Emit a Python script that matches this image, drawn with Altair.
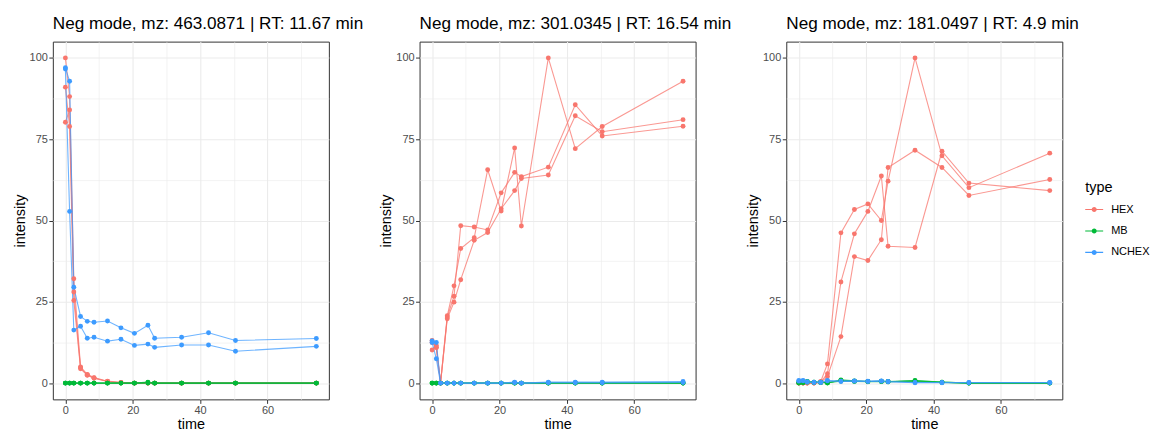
import altair as alt
import pandas as pd

# ---------------- data ----------------
TIMES = [0, 1.25, 2.5, 4.5, 6.5, 8.5, 12.5, 16.5, 20.5, 24.5, 26.5, 34.5, 42.5, 50.5, 74.5]
TYPES = ["HEX", "MB", "NCHEX"]
COLORS = ["#F8766D", "#00BA38", "#3D9BFF"]
TITLES = [
    "Neg mode, mz: 463.0871 | RT: 11.67 min",
    "Neg mode, mz: 301.0345 | RT: 16.54 min",
    "Neg mode, mz: 181.0497 | RT: 4.9 min",
]

# panel 1
P1_HEX = [
    [100.0, 88.1, 32.1, 5.0, 2.7, 1.7, 0.6, 0.2, 0, 0, 0, 0, 0, 0, 0],
    [91.0, 78.9, 25.4, 4.4, 2.4, 1.5, 0.5, 0.1, 0, 0, 0, 0, 0, 0, 0],
    [80.2, 84.0, 28.0, 4.7, 2.5, 1.6, 0.5, 0.2, 0, 0, 0, 0, 0, 0, 0],
]
P1_MB = [
    [0, 0, 0, 0, 0, 0, 0, 0, 0, 0.3, 0, 0, 0, 0, 0],
    [0, 0, 0, 0, 0, 0, 0, 0, 0, 0.1, 0, 0, 0, 0, 0],
    [0, 0, 0, 0, 0, 0, 0, 0, 0, 0, 0, 0, 0, 0, 0],
]
P1_NCHEX = [
    [97.0, 92.8, 29.5, 20.5, 19.0, 18.7, 19.1, 17.0, 15.3, 17.8, 13.8, 14.1, 15.5, 13.1, 13.7],
    [96.6, 52.8, 16.3, 17.5, 13.8, 14.1, 12.9, 13.5, 11.6, 12.0, 11.0, 11.7, 11.7, 9.8, 11.3],
]

# panel 2
P2_HEX = [
    [12.5, 11.0, 0, 20.7, 29.9, 41.4, 44.7, 65.6, 52.9, 72.3, 48.3, 100.0, 72.1, 78.9, 92.8],
    [13.1, 10.9, 0, 20.3, 26.7, 48.4, 48.0, 47.1, 58.5, 64.8, 63.5, 66.4, 85.6, 76.0, 79.0],
    [10.2, 11.6, 0, 19.8, 24.9, 31.8, 43.9, 46.3, 53.6, 59.2, 62.9, 64.0, 82.2, 77.3, 81.0],
]
P2_MB = [
    [0, 0, 0, 0, 0, 0, 0, 0, 0, 0, 0, 0, 0, 0, 0],
    [0, 0, 0, 0, 0, 0, 0, 0, 0, 0, 0, 0, 0, 0, 0],
    [0, 0, 0, 0, 0, 0, 0, 0, 0, 0, 0, 0, 0, 0, 0],
]
P2_NCHEX = [
    [13.0, 12.5, 0, 0, 0, 0, 0, 0, 0, 0.3, 0, 0.3, 0.3, 0.3, 0.5],
    [12.5, 7.5, 0, 0, 0, 0, 0, 0, 0, 0.1, 0, 0.1, 0.1, 0.1, 0.2],
]

# panel 3
P3_HEX = [
    [0, 0, 0, 0, 0.5, 5.9, 46.2, 53.4, 55.1, 50.0, 62.1, 100.0, 69.9, 60.1, 70.7],
    [0, 0, 0, 0, 0.3, 2.9, 31.1, 45.9, 52.8, 63.7, 42.1, 41.7, 71.3, 61.5, 59.2],
    [0, 0, 0, 0, 0.2, 2.0, 14.3, 38.9, 37.7, 44.1, 66.3, 71.6, 66.3, 57.7, 62.6],
]
P3_MB = [
    [0.1, 0.2, 0.5, 0.3, 0.3, 0.0, 1.0, 0.7, 0.5, 0.6, 0.5, 0.8, 0.3, 0, 0],
    [0.0, 0.1, 0.3, 0.2, 0.2, 0.1, 0.6, 0.5, 0.4, 0.5, 0.4, 0.6, 0.2, 0, 0],
    [0.2, 0.3, 0.4, 0.3, 0.2, 0.2, 0.8, 0.6, 0.5, 0.5, 0.4, 0.7, 0.3, 0, 0],
]
P3_NCHEX = [
    [0.8, 0.8, 0.4, 0.3, 0.3, 0.8, 0.6, 0.7, 0.6, 0.7, 0.5, 0.2, 0.2, 0.2, 0.2],
    [0.6, 0.7, 0.3, 0.2, 0.2, 0.7, 0.5, 0.6, 0.5, 0.6, 0.4, 0.1, 0.1, 0.1, 0.1],
]

PANELS = [
    (P1_HEX, P1_MB, P1_NCHEX),
    (P2_HEX, P2_MB, P2_NCHEX),
    (P3_HEX, P3_MB, P3_NCHEX),
]

X_VALUES = [0, 10, 20, 30, 40, 50, 60, 70]
Y_VALUES = [0, 12.5, 25, 37.5, 50, 62.5, 75, 87.5, 100]

FONT = "Liberation Sans"
# legend key: thin horizontal line with a dot (ggplot line+point key)
LEGEND_SYMBOL = ("M-1,-0.06H1V0.06H-1Z "
                 "M0,-0.28A0.28,0.28 0 1,1 0,0.28A0.28,0.28 0 1,1 0,-0.28Z")


def panel_df(series):
    rows = []
    for type_name, reps in zip(TYPES, series):
        for i, rep in enumerate(reps):
            for t, v in zip(TIMES, rep):
                rows.append({"type": type_name, "rep": f"{type_name}_{i}",
                             "time": t, "intensity": v})
    return pd.DataFrame(rows)


color_scale = alt.Scale(domain=TYPES, range=COLORS)

x_axis = alt.Axis(
    values=X_VALUES,
    labelExpr="datum.value % 20 === 0 ? datum.label : ''",
    tickOpacity={"condition": {"test": "datum.value % 20 === 0", "value": 1}, "value": 0},
    gridWidth={"condition": {"test": "datum.value % 20 === 0", "value": 1.1}, "value": 0.6},
    title="time",
)
y_axis = alt.Axis(
    values=Y_VALUES,
    labelExpr="datum.value % 25 === 0 ? datum.label : ''",
    tickOpacity={"condition": {"test": "datum.value % 25 === 0", "value": 1}, "value": 0},
    gridWidth={"condition": {"test": "datum.value % 25 === 0", "value": 1.1}, "value": 0.6},
    title="intensity",
)

legend = alt.Legend(
    title="type",
    orient="none",
    legendX=1036,
    legendY=140,
    symbolType=LEGEND_SYMBOL,
    symbolSize=324,
    symbolStrokeWidth=0,
    symbolOpacity=1,
    labelFontSize=11,
    labelFont=FONT,
    labelColor="black",
    labelOffset=8,
    titleFontSize=14.5,
    titleFont=FONT,
    titleFontWeight="normal",
    titleColor="black",
    titlePadding=5,
    rowPadding=7.5,
)

charts = []
for title, series in zip(TITLES, PANELS):
    df = panel_df(series)
    base = alt.Chart(df).encode(
        x=alt.X("time:Q", axis=x_axis,
                scale=alt.Scale(domain=[-3.725, 78.225], nice=False, zero=False)),
        y=alt.Y("intensity:Q", axis=y_axis,
                scale=alt.Scale(domain=[-5, 105], nice=False, zero=False)),
    )
    # invisible first layer carries the legend
    layers = [
        base.mark_point(filled=True, size=24, opacity=0).encode(
            color=alt.Color("type:N", scale=color_scale, legend=legend),
        )
    ]
    # one line layer per type so the drawing order is HEX, MB, NCHEX
    for type_name in TYPES:
        layers.append(
            base.transform_filter(alt.datum.type == type_name)
            .mark_line(strokeWidth=1.1, opacity=0.75)
            .encode(
                color=alt.Color("type:N", scale=color_scale, legend=None),
                detail="rep:N",
            )
        )
    layers.append(
        base.mark_point(filled=True, size=24, opacity=1).encode(
            color=alt.Color("type:N", scale=color_scale, legend=None),
        )
    )
    ch = alt.layer(*layers).properties(
        width=277,
        height=359,
        title=alt.TitleParams(
            text=title, anchor="start", frame="group", fontSize=17.2, font=FONT,
            fontWeight="normal", color="black", offset=9,
        ),
    )
    charts.append(ch)

chart = alt.hconcat(*charts, spacing=91, bounds="flush").properties(
    padding={"left": 3, "top": 6, "right": 0, "bottom": 0}
).configure_view(
    stroke="#333333", strokeWidth=1
).configure_axis(
    domain=False,
    grid=True,
    gridColor="#EBEBEB",
    tickColor="#333333",
    tickSize=4,
    tickWidth=1,
    labelColor="#4D4D4D",
    labelFontSize=11,
    labelFont=FONT,
    labelPadding=1.5,
    titleFont=FONT,
    titleFontSize=14.5,
    titleFontWeight="normal",
    titleColor="black",
    titlePadding=2,
)

chart.save("out.html", embed_options={"renderer": "svg", "actions": False})
